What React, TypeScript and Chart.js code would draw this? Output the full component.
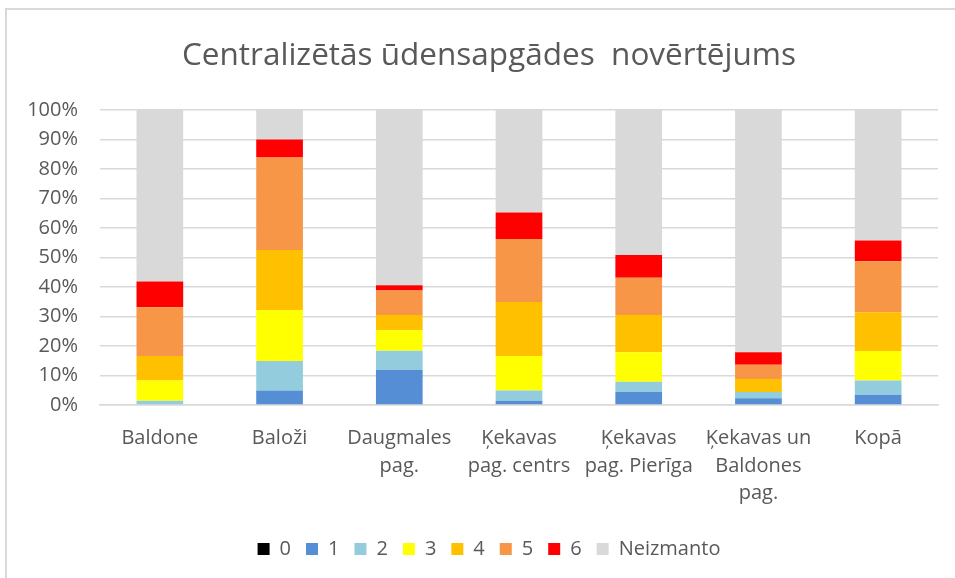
import React, { useEffect, useRef } from "react";
import { Chart, registerables } from "chart.js";

Chart.register(...registerables);

const TITLE = "Centralizētās ūdensapgādes  novērtējums";

const categories: string[][] = [
  ["Baldone"],
  ["Baloži"],
  ["Daugmales", "pag."],
  ["Ķekavas", "pag. centrs"],
  ["Ķekavas", "pag. Pierīga"],
  ["Ķekavas un", "Baldones", "pag."],
  ["Kopā"],
];

const seriesNames = ["0", "1", "2", "3", "4", "5", "6", "Neizmanto"];

const s0 = [0, 0, 0, 0, 0, 0, 0];
const s1 = [0, 4.9, 11.9, 1.4, 4.4, 2.3, 3.5];
const s2 = [1.4, 10.0, 6.5, 3.5, 3.5, 2.1, 4.8];
const s3 = [6.9, 17.3, 6.9, 11.7, 10.0, 0, 10.0];
const s4 = [8.3, 20.3, 5.2, 18.3, 12.6, 4.4, 13.1];
const s5 = [16.5, 31.3, 8.3, 21.3, 12.6, 4.8, 17.3];
const s6 = [8.7, 6.1, 1.8, 9.0, 7.7, 4.3, 7.0];
const neizmanto = [58.2, 10.1, 59.4, 34.8, 49.2, 82.1, 44.3];

const seriesValues = [s0, s1, s2, s3, s4, s5, s6, neizmanto];
const seriesColors = ["#000000", "#558ED5", "#93CDDD", "#FFFF00", "#FFC000", "#F79646", "#FF0000", "#D9D9D9"];

const yTicks = [0, 10, 20, 30, 40, 50, 60, 70, 80, 90, 100];

const FONT = "'Open Sans', 'DejaVu Sans', sans-serif";
const TEXT = "#595959";

export default function App() {
  const ref = useRef<HTMLCanvasElement | null>(null);

  useEffect(() => {
    if (!ref.current) return;
    const chart = new Chart(ref.current, {
      type: "bar",
      data: {
        labels: categories,
        datasets: seriesNames.map((name, i) => ({
          label: name,
          data: seriesValues[i],
          backgroundColor: seriesColors[i],
          borderWidth: 0,
          barPercentage: 0.39,
          categoryPercentage: 1,
        })),
      },
      options: {
        animation: false,
        responsive: false,
        layout: { padding: { left: 23, right: 0, top: 0, bottom: 9 } },
        plugins: {
          title: {
            display: true,
            text: TITLE,
            color: TEXT,
            font: { family: FONT, size: 31.5, weight: "normal" },
            padding: { top: 37, bottom: 35 },
          },
          legend: {
            position: "bottom",
            labels: {
              color: TEXT,
              font: { family: FONT, size: 20 },
              boxWidth: 12,
              boxHeight: 12,
              padding: 15,
            },
          },
          tooltip: { enabled: false },
        },
        scales: {
          x: {
            stacked: true,
            grid: { display: false, drawTicks: false },
            border: { display: true, color: "#D9D9D9", width: 1.5 },
            ticks: {
              color: TEXT,
              font: { family: FONT, size: 20, lineHeight: 1.36 },
              padding: 20,
              maxRotation: 0,
              autoSkip: false,
            },
            afterFit: (s: any) => {
              s.height = 119;
            },
          },
          y: {
            stacked: true,
            min: 0,
            max: 100,
            afterBuildTicks: (s: any) => {
              s.ticks = yTicks.map((v) => ({ value: v }));
            },
            grid: { color: "#D9D9D9", lineWidth: 1.5, drawTicks: false },
            border: { display: false },
            ticks: {
              color: TEXT,
              font: { family: FONT, size: 20 },
              padding: 22,
              callback: (v: any) => v + "%",
            },
            afterFit: (s: any) => {
              s.width = 77;
            },
          },
          yR: {
            position: "right",
            display: true,
            grid: { display: false, drawTicks: false },
            border: { display: false },
            ticks: { display: false },
            afterFit: (s: any) => {
              s.width = 17;
            },
          },
        },
      },
    });
    return () => chart.destroy();
  }, []);

  return (
    <div style={{ position: "fixed", left: 0, top: 0, width: 955, height: 578, overflow: "hidden", background: "#fff" }}>
      <div
        style={{
          position: "absolute",
          left: 5,
          top: 8,
          width: 1000,
          height: 600,
          borderLeft: "2px solid #D9D9D9",
          borderTop: "2px solid #D9D9D9",
        }}
      />
      <canvas ref={ref} width={955} height={578} style={{ position: "absolute", left: 0, top: 0 }} />
    </div>
  );
}
